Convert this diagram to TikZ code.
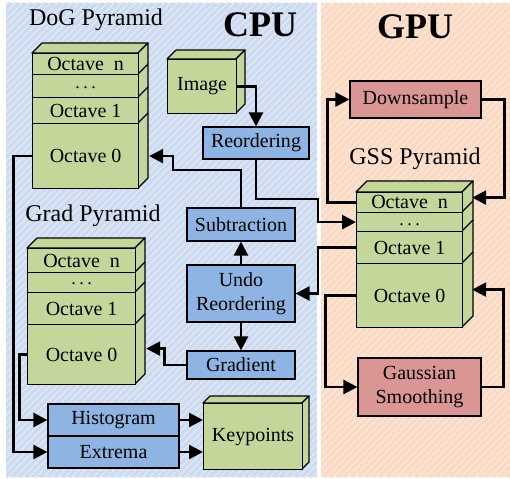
\documentclass[tikz,border=0pt]{standalone}
\usepackage{fontspec}
\setmainfont{Liberation Serif}
\usetikzlibrary{arrows.meta,patterns.meta,calc}
\definecolor{bgblue}{HTML}{CCDBF0}
\definecolor{bgbluestripe}{HTML}{DDE7F5}
\definecolor{bgorange}{HTML}{FBD9C2}
\definecolor{bgorangestripe}{HTML}{FDE6D6}
\definecolor{boxblue}{HTML}{8DB4E2}
\definecolor{boxred}{HTML}{D99694}
\definecolor{boxgreen}{HTML}{C4D79B}
\tikzset{
  lbl/.style={font=\fontsize{20}{24}\selectfont},
  bluebox/.style={lbl, draw=black, line width=1.2pt, fill=boxblue, inner sep=0pt, align=center},
  redbox/.style={lbl, draw=black, line width=1.2pt, fill=boxred, inner sep=0pt, align=center},
  greenrow/.style={lbl, draw=black, line width=1.2pt, fill=boxgreen, inner sep=0pt, anchor=north west},
  dotstext/.style={font=\fontsize{18}{20}\selectfont, inner sep=0pt},
  cubeface/.style={draw=black, line width=1.2pt, fill=boxgreen, line join=round},
  arr/.style={line width=2.6pt, -{Triangle[length=14pt,width=14pt]}},
  titletext/.style={font=\fontsize{24}{28}\selectfont},
  bigtitle/.style={font=\fontsize{36}{40}\selectfont\bfseries},
}
\newcommand\cubebody[5]{%
  \filldraw[cubeface] (#1,#2) -- ++(#5,-#5) -- (#3+#5,#2-#5) -- (#3,#2) -- cycle;
  \filldraw[cubeface] (#3,#2) -- (#3+#5,#2-#5) -- (#3+#5,#4-#5) -- (#3,#4) -- cycle;}
\newcommand\sidesep[3]{\draw[line width=1.2pt] (#1,#2) -- ++(#3,-#3);}
\newcommand\rowdots{.\hspace{3.5pt}.\hspace{3.5pt}.}
\begin{document}
\begin{tikzpicture}[x=1pt,y=-1pt]
\useasboundingbox (0,0) rectangle (510,478);
% backgrounds
\fill[bgblue] (6,3) rectangle (317,477);
\fill[pattern={Lines[angle=45,distance=5pt,line width=1.6pt]}, pattern color=bgbluestripe] (6,3) rectangle (317,477);
\fill[bgorange] (321,3) rectangle (510,477);
\fill[pattern={Lines[angle=45,distance=5pt,line width=1.6pt]}, pattern color=bgorangestripe] (321,3) rectangle (510,477);
% titles
\node[bigtitle] (cpu) at (260,25) {CPU};
\node[bigtitle] (gpu) at (415,27) {GPU};
\node[titletext] (dogt) at (96,20) {DoG Pyramid};
\node[titletext] (gradt) at (93,216) {Grad Pyramid};
\node[titletext] (gsst) at (415,159) {GSS Pyramid};
% DoG pyramid
\cubebody{32}{53}{138}{188}{10}
\sidesep{138}{74}{10}\sidesep{138}{97}{10}\sidesep{138}{123}{10}
\node[greenrow, minimum width=106pt, minimum height=21pt] (dogn) at (32,53) {Octave~~n};
\node[greenrow, minimum width=106pt, minimum height=23pt] (dogd) at (32,74) {};
\node[dotstext] (dogdt) at ($(dogd.center)+(0,1.5)$) {\rowdots};
\node[greenrow, minimum width=106pt, minimum height=26pt] (dog1) at (32,97) {Octave 1};
\node[greenrow, minimum width=106pt, minimum height=65pt] (dog0) at (32,123) {Octave 0};
% Grad pyramid
\cubebody{27}{248}{135}{384}{10}
\sidesep{135}{272}{10}\sidesep{135}{292}{10}\sidesep{135}{324}{10}
\node[greenrow, minimum width=108pt, minimum height=24pt] (grn) at (27,248) {Octave~~n};
\node[greenrow, minimum width=108pt, minimum height=20pt] (grd) at (27,272) {};
\node[dotstext] (grdt) at ($(grd.center)+(0,1.5)$) {\rowdots};
\node[greenrow, minimum width=108pt, minimum height=32pt] (gr1) at (27,292) {Octave 1};
\node[greenrow, minimum width=108pt, minimum height=60pt] (gr0) at (27,324) {Octave 0};
% GSS pyramid
\cubebody{356}{192}{462}{327}{11}
\sidesep{462}{212}{11}\sidesep{462}{231}{11}\sidesep{462}{263}{11}
\node[greenrow, minimum width=106pt, minimum height=20pt] (gssn) at (356,192) {};
\node[lbl, inner sep=0pt] (gssnt) at ($(gssn.center)+(0,-0.5)$) {Octave~~n};
\node[greenrow, minimum width=106pt, minimum height=19pt] (gssd) at (356,212) {};
\node[dotstext] (gssdt) at ($(gssd.center)+(0,2.5)$) {\rowdots};
\node[greenrow, minimum width=106pt, minimum height=32pt] (gss1) at (356,231) {Octave 1};
\node[greenrow, minimum width=106pt, minimum height=64pt] (gss0) at (356,263) {Octave 0};
% Image
\cubebody{167}{59}{236}{113}{9}
\node[greenrow, minimum width=69pt, minimum height=54pt] (img) at (167,59) {Image};
% Keypoints
\cubebody{203}{403}{302}{469}{7}
\node[greenrow, minimum width=99pt, minimum height=66pt] (kp) at (203,403) {Keypoints};
% blue boxes
\node[bluebox, minimum width=106pt, minimum height=32pt] (reord) at (256,143) {Reordering};
\node[bluebox, minimum width=108pt, minimum height=33pt] (sub) at (241,224.5) {Subtraction};
\node[bluebox, minimum width=108pt, minimum height=57pt] (undo) at (241,293.5) {Undo\\Reordering};
\node[bluebox, minimum width=108pt, minimum height=28pt] (grad) at (241,365) {Gradient};
\node[bluebox, minimum width=131pt, minimum height=32pt] (hist) at (113.5,420) {Histogram};
\node[bluebox, minimum width=131pt, minimum height=32pt] (extr) at (113.5,452) {Extrema};
% red boxes
\node[redbox, minimum width=131pt, minimum height=37pt] (down) at (415.5,99.5) {Downsample};
\node[redbox, minimum width=123pt, minimum height=58pt] (gauss) at (419.5,387) {Gaussian\\Smoothing};
% connectors
\draw[arr] (img.east) -| (reord.north);
\draw[arr] (reord.south) |- (318,199) |- (gssd.west);
\draw[arr] (sub.north) |- (173,170) |- ([xshift=10pt]dog0.east);
\draw[arr] (undo.north) -- (sub.south);
\draw[arr] (undo.south) -- (grad.north);
\draw[arr] (gss1.west) -| (318,293.5) -- (undo.east);
\draw[arr] (grad.west) -| ([xshift=28pt,yshift=6pt]gr0.east) -- ([xshift=10pt,yshift=6pt]gr0.east);
\draw[arr] (dog0.west) -| ([xshift=-34pt]extr.west) -- (extr.west);
\draw[arr] (gr0.west) -| ([xshift=-28pt]hist.west) -- (hist.west);
\draw[arr] (hist.east) -- (hist.east -| kp.west);
\draw[arr] (extr.east) -- (extr.east -| kp.west);
\draw[arr] (gssn.west) -| ([xshift=-22pt]down.west) -- (down.west);
\draw[arr] (down.east) -| ([xshift=41pt,yshift=5pt]gssn.east) -- ([xshift=9pt,yshift=5pt]gssn.east);
\draw[arr] (gss0.west) -| ([xshift=-32pt]gauss.west) -- (gauss.west);
\draw[arr] (gauss.east) -| ([xshift=40pt,yshift=6pt]gss0.east) -- ([xshift=9pt,yshift=6pt]gss0.east);
\end{tikzpicture}
\end{document}
